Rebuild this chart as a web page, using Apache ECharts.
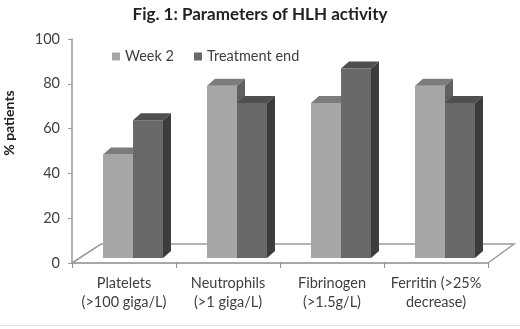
<!DOCTYPE html>
<html>
<head>
<meta charset="utf-8">
<script src="https://cdn.jsdelivr.net/npm/echarts@6/dist/echarts.min.js"></script>
<style>
  html, body { margin: 0; padding: 0; background: #fff; }
  #chart { width: 520px; height: 329px; }
</style>
</head>
<body>
<div id="chart"></div>
<script>
// values (% of patients)
var categories = ['Platelets\n(>100 giga/L)', 'Neutrophils\n(>1 giga/L)', 'Fibrinogen\n(>1.5g/L)', 'Ferritin (>25%\ndecrease)'];
var week2 = [46.2, 76.9, 69.2, 76.9];
var treatmentEnd = [61.5, 69.2, 84.6, 69.2];
var yTicks = [0, 20, 40, 60, 80, 100];

var FONT = 'Lato, "Open Sans", sans-serif';

// face colours: front, top, side
var shades = [
    ['#a6a6a6', '#7c7c7c', '#606060'],
    ['#696969', '#4e4e4e', '#3c3c3c']
];

function bar3d(seriesIdx) {
    return function(params, api) {
        var i = api.value(0);
        var base = api.coord([i, 0]);
        var top = api.coord([i, api.value(1)]);
        var barW = 30, dx = 8, dy = -7;
        var x0 = base[0] + 9 - barW + seriesIdx * barW;
        var yb = base[1] - 5, yt = top[1] - 5;
        var c = shades[seriesIdx];
        return {
            type: 'group',
            children: [
                { type: 'polygon', shape: { points: [[x0, yt], [x0 + barW, yt], [x0 + barW, yb], [x0, yb]] }, style: { fill: c[0] } },
                { type: 'polygon', shape: { points: [[x0, yt], [x0 + barW, yt], [x0 + barW + dx, yt + dy], [x0 + dx, yt + dy]] }, style: { fill: c[1] } },
                { type: 'polygon', shape: { points: [[x0 + barW, yt], [x0 + barW + dx, yt + dy], [x0 + barW + dx, yb + dy], [x0 + barW, yb]] }, style: { fill: c[2] } }
            ]
        };
    };
}

function floor(params, api) {
    var cs = params.coordSys;
    var yf = cs.y + cs.height;
    var pts = [[cs.x, yf], [cs.x + 29, yf - 19], [cs.x + cs.width + 26, yf - 19], [cs.x + cs.width, yf]];
    return {
        type: 'polyline',
        shape: { points: pts },
        style: { fill: null, stroke: '#9a9a9a', lineWidth: 1.5 }
    };
}

var chart = echarts.init(document.getElementById('chart'));
chart.setOption({
    backgroundColor: '#fff',
    animation: false,
    title: {
        text: 'Fig. 1: Parameters of HLH activity',
        left: 'center',
        top: 1,
        textStyle: { fontFamily: FONT, fontSize: 17, fontWeight: 'bold', color: '#222' }
    },
    legend: {
        data: ['Week 2', 'Treatment end'],
        left: 107,
        top: 44,
        icon: 'rect',
        itemWidth: 8,
        itemHeight: 8,
        itemGap: 20,
        textStyle: { fontFamily: FONT, fontSize: 14.5, color: '#404040' }
    },
    grid: { left: 72, right: 32, top: 39, bottom: 66, outerBoundsMode: 'none' },
    xAxis: {
        type: 'category',
        data: categories,
        axisLine: { lineStyle: { color: '#8c8c8c', width: 1.5 } },
        axisTick: { show: true, length: 5, lineStyle: { color: '#8c8c8c' } },
        axisLabel: { interval: 0, margin: 11, fontFamily: FONT, fontSize: 14.5, lineHeight: 19, color: '#404040' }
    },
    yAxis: {
        type: 'value',
        min: yTicks[0],
        max: yTicks[yTicks.length - 1],
        interval: 20,
        name: '% patients',
        nameLocation: 'middle',
        nameGap: 56,
        nameTextStyle: { fontFamily: FONT, fontSize: 14, fontWeight: 'bold', color: '#222', padding: [0, 0, 0, 56] },
        axisLine: { show: true, lineStyle: { color: '#9a9a9a', width: 1.5 } },
        axisTick: { show: true, length: 4, lineStyle: { color: '#9a9a9a' } },
        splitLine: { show: false },
        axisLabel: { margin: 12, fontFamily: FONT, fontSize: 14.5, color: '#404040' }
    },
    series: [
        {
            name: 'floor',
            type: 'custom',
            renderItem: floor,
            data: [[0, 0]],
            z: 1,
            silent: true
        },
        {
            name: 'Week 2',
            type: 'custom',
            itemStyle: { color: shades[0][0] },
            renderItem: bar3d(0),
            data: week2.map(function(v, i) { return [i, v]; }),
            z: 2
        },
        {
            name: 'Treatment end',
            type: 'custom',
            itemStyle: { color: shades[1][0] },
            renderItem: bar3d(1),
            data: treatmentEnd.map(function(v, i) { return [i, v]; }),
            z: 3
        }
    ],
    graphic: [{
        type: 'rect',
        shape: { x: 0, y: 325, width: 520, height: 1 },
        style: { fill: '#e4e4e4' },
        silent: true
    }]
});
</script>
</body>
</html>
